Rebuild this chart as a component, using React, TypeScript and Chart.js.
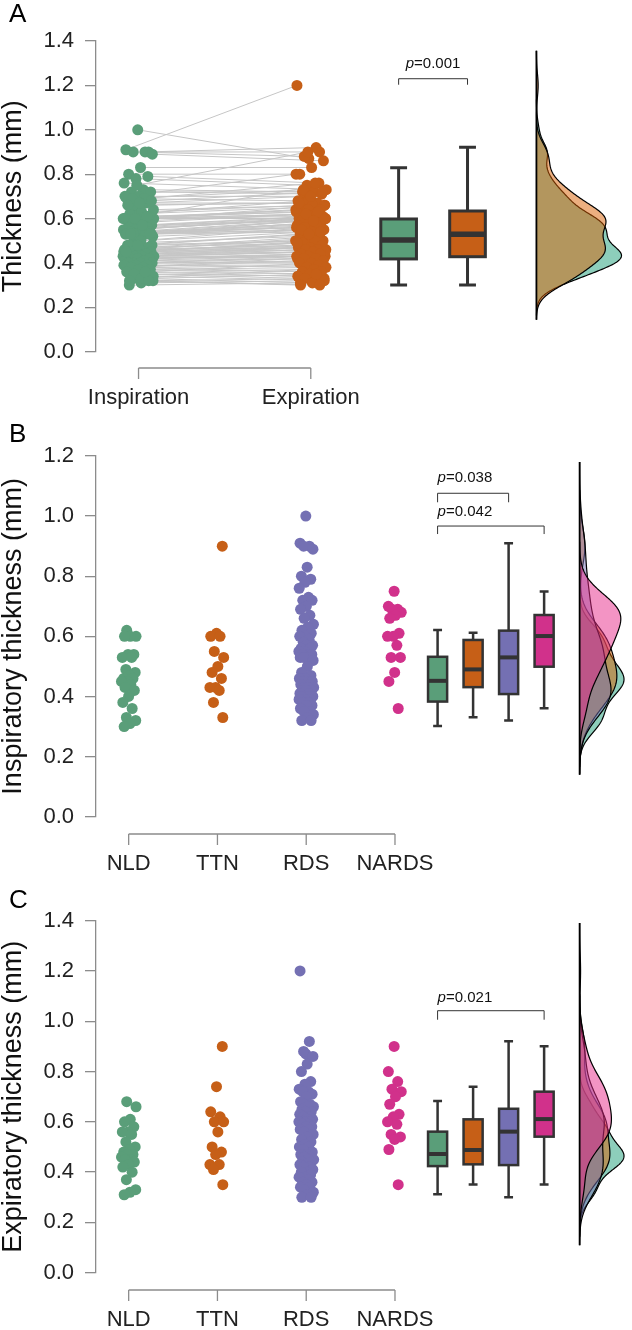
import React, { useEffect, useRef } from "react";
import { Chart, registerables } from "chart.js";
Chart.register(...registerables);

const FONT = '"Liberation Sans", Arial, Helvetica, sans-serif';

// ---------- categories ----------
const catsA = ["Inspiration", "Expiration"];
const catsBC = ["NLD", "TTN", "RDS", "NARDS"];

// ---------- inspiratory thickness (mm) per group ----------
const nldInsp = [0.62, 0.6, 0.6, 0.6, 0.54, 0.54, 0.53, 0.53, 0.49, 0.48, 0.47, 0.46, 0.46, 0.45, 0.45, 0.44, 0.43, 0.42, 0.4, 0.38, 0.36, 0.33, 0.32, 0.31, 0.3];
const ttnInsp = [0.9, 0.61, 0.6, 0.6, 0.55, 0.53, 0.5, 0.48, 0.46, 0.43, 0.43, 0.42, 0.38, 0.33];
const rdsInsp = [
  1.0, 0.91, 0.9, 0.9, 0.89, 0.83, 0.8, 0.79, 0.78, 0.76, 0.73, 0.72, 0.72, 0.7, 0.69, 0.67, 0.66, 0.64, 0.63,
  0.62, 0.61, 0.6, 0.6, 0.59, 0.58, 0.57, 0.57, 0.56, 0.56, 0.55, 0.55, 0.54, 0.54, 0.54, 0.53, 0.53, 0.53, 0.53,
  0.52, 0.5, 0.48, 0.47, 0.46, 0.46, 0.45, 0.45, 0.45, 0.44, 0.44, 0.44, 0.43, 0.43, 0.43, 0.42, 0.42, 0.42, 0.41,
  0.41, 0.4, 0.4, 0.4, 0.4, 0.39, 0.39, 0.39, 0.38, 0.38, 0.37, 0.37, 0.36, 0.35, 0.35, 0.34, 0.33, 0.32, 0.32,
];
const nardsInsp = [0.75, 0.7, 0.69, 0.69, 0.68, 0.67, 0.66, 0.61, 0.6, 0.6, 0.57, 0.53, 0.53, 0.48, 0.45, 0.36];

// ---------- expiratory thickness (mm) per group (same subjects, same order) ----------
const nldExp = [0.68, 0.66, 0.61, 0.6, 0.58, 0.56, 0.56, 0.55, 0.52, 0.5, 0.49, 0.48, 0.47, 0.47, 0.46, 0.45, 0.45, 0.44, 0.43, 0.42, 0.4, 0.37, 0.33, 0.32, 0.31];
const ttnExp = [0.9, 0.74, 0.64, 0.62, 0.6, 0.6, 0.56, 0.5, 0.48, 0.47, 0.43, 0.43, 0.41, 0.35];
const rdsExp = [
  0.87, 1.2, 0.92, 0.88, 0.86, 0.83, 0.8, 0.76, 0.75, 0.73, 0.72, 0.72, 0.71, 0.7, 0.68, 0.67, 0.67, 0.66, 0.66,
  0.65, 0.64, 0.64, 0.63, 0.62, 0.62, 0.61, 0.61, 0.6, 0.6, 0.6, 0.6, 0.59, 0.59, 0.58, 0.58, 0.57, 0.57, 0.56,
  0.55, 0.54, 0.53, 0.52, 0.51, 0.5, 0.5, 0.49, 0.48, 0.47, 0.47, 0.46, 0.46, 0.45, 0.45, 0.44, 0.44, 0.43, 0.43,
  0.42, 0.42, 0.41, 0.4, 0.4, 0.39, 0.38, 0.38, 0.37, 0.36, 0.36, 0.35, 0.34, 0.34, 0.33, 0.32, 0.31, 0.3, 0.3,
];
const nardsExp = [0.9, 0.8, 0.76, 0.73, 0.72, 0.7, 0.67, 0.63, 0.62, 0.6, 0.59, 0.55, 0.54, 0.53, 0.49, 0.35];

const inspAll = [...nldInsp, ...ttnInsp, ...rdsInsp, ...nardsInsp];
const expAll = [...nldExp, ...ttnExp, ...rdsExp, ...nardsExp];

// ---------- box plot statistics [lower whisker, Q1, median, Q3, upper whisker] ----------
const boxInspA = [0.3, 0.418, 0.503, 0.598, 0.829];
const boxExpA = [0.3, 0.428, 0.529, 0.634, 0.921];
const boxNldInsp = [0.302, 0.383, 0.452, 0.532, 0.621];
const boxTtnInsp = [0.331, 0.431, 0.49, 0.588, 0.612];
const boxRdsInsp = [0.32, 0.408, 0.53, 0.619, 0.91];
const boxNardsInsp = [0.361, 0.499, 0.601, 0.671, 0.749];
const boxNldExp = [0.312, 0.424, 0.472, 0.561, 0.683];
const boxTtnExp = [0.351, 0.431, 0.488, 0.61, 0.74];
const boxRdsExp = [0.3, 0.428, 0.561, 0.652, 0.921];
const boxNardsExp = [0.351, 0.541, 0.611, 0.72, 0.901];

// ---------- p values ----------
const pLabelsA = ["0.001"];
const pLabelsB = ["0.038", "0.042"];
const pLabelsC = ["0.021"];

// ---------- y axis ticks ----------
const yMaxA = 1.4;
const yMaxB = 1.2;
const yMaxC = 1.4;
const yStep = 0.2;

// ---------- styles ----------
const POINT_COLORS = ["#5a9e79", "#c65f17", "#7470b3", "#d1318b"];
const DENS_COLORS = ["rgba(27,158,119,0.5)", "rgba(217,95,2,0.5)", "rgba(117,112,179,0.5)", "rgba(231,41,138,0.5)"];
const AXIS_COLOR = "#8c8c8c";
const TEXT_COLOR = "#222";

function jitter(i: number, amp: number) {
  const f = (i * 0.6180339887 + 0.37) % 1;
  return (f - 0.5) * 2 * amp;
}

function kde(values: number[]) {
  const n = values.length;
  const s = [...values].sort((a, b) => a - b);
  const mean = s.reduce((a, b) => a + b, 0) / n;
  const sd = Math.sqrt(s.reduce((a, b) => a + (b - mean) * (b - mean), 0) / (n - 1));
  const q = (p: number) => {
    const h = (n - 1) * p;
    const lo = Math.floor(h);
    const hi = Math.min(n - 1, lo + 1);
    return s[lo] + (h - lo) * (s[hi] - s[lo]);
  };
  const iqr = q(0.75) - q(0.25);
  const bw = 0.9 * Math.min(sd, iqr / 1.34) * Math.pow(n, -0.2);
  const lo = s[0] - 3 * bw;
  const hi = s[n - 1] + 3 * bw;
  const out: { y: number; d: number }[] = [];
  const M = 240;
  for (let k = 0; k < M; k++) {
    const y = lo + ((hi - lo) * k) / (M - 1);
    let d = 0;
    for (const v of s) {
      const z = (y - v) / bw;
      d += Math.exp(-0.5 * z * z);
    }
    d /= n * bw * Math.sqrt(2 * Math.PI);
    out.push({ y, d });
  }
  return out;
}

type Bracket = { from: number; to: number; y: number; tick: number; textY: number; label: string; align: "left" | "center" };

type Panel = {
  letter: string;
  letterY: number;
  top: number;
  h: number;
  padTop: number;
  padBottom: number;
  xMin: number;
  xMax: number;
  yMax: number;
  title: string;
  cats: string[];
  groups: number[][];
  paired: boolean;
  jitterAmp: number;
  boxes: number[][];
  boxX: number[];
  boxW: number;
  capW: number;
  boxLW: number;
  medLW: number;
  densBase: number;
  densWidth: number;
  brackets: Bracket[];
  xAxisOff: number;
};

const panels: Panel[] = [
  {
    letter: "A", letterY: 15, top: 0, h: 420, padTop: 41, padBottom: 68.3,
    xMin: 0.753, xMax: 3.833, yMax: yMaxA, title: "Thickness (mm)",
    cats: catsA, groups: [inspAll, expAll], paired: true, jitterAmp: 0.09,
    boxes: [boxInspA, boxExpA], boxX: [2.51, 2.91], boxW: 0.207, capW: 0.098, boxLW: 3, medLW: 5.5,
    densBase: 3.31, densWidth: 0.494,
    brackets: [{ from: 0, to: 1, y: 1.23, tick: 6, textY: 1.296, label: pLabelsA[0], align: "center" }],
    xAxisOff: 16.3,
  },
  {
    letter: "B", letterY: 15, top: 420, h: 455, padTop: 36, padBottom: 58.3,
    xMin: 0.632, xMax: 6.608, yMax: yMaxB, title: "Inspiratory thickness (mm)",
    cats: catsBC, groups: [nldInsp, ttnInsp, rdsInsp, nardsInsp], paired: false, jitterAmp: 0.085,
    boxes: [boxNldInsp, boxTtnInsp, boxRdsInsp, boxNardsInsp], boxX: [4.48, 4.88, 5.28, 5.68], boxW: 0.215, capW: 0.1, boxLW: 2.5, medLW: 4,
    densBase: 6.08, densWidth: 0.5,
    brackets: [
      { from: 0, to: 2, y: 1.076, tick: 9, textY: 1.126, label: pLabelsB[0], align: "left" },
      { from: 0, to: 3, y: 0.967, tick: 8, textY: 1.015, label: pLabelsB[1], align: "left" },
    ],
    xAxisOff: 17.3,
  },
  {
    letter: "C", letterY: 26, top: 875, h: 455, padTop: 45.7, padBottom: 57.3,
    xMin: 0.632, xMax: 6.608, yMax: yMaxC, title: "Expiratory thickness (mm)",
    cats: catsBC, groups: [nldExp, ttnExp, rdsExp, nardsExp], paired: false, jitterAmp: 0.085,
    boxes: [boxNldExp, boxTtnExp, boxRdsExp, boxNardsExp], boxX: [4.48, 4.88, 5.28, 5.68], boxW: 0.215, capW: 0.1, boxLW: 2.5, medLW: 4,
    densBase: 6.08, densWidth: 0.5,
    brackets: [{ from: 0, to: 3, y: 1.042, tick: 9, textY: 1.093, label: pLabelsC[0], align: "left" }],
    xAxisOff: 17.3,
  },
];

function makePlugin(p: Panel) {
  return {
    id: "extras" + p.letter,
    afterDatasetsDraw(chart: any) {
      const ctx: CanvasRenderingContext2D = chart.ctx;
      const xs = chart.scales.x;
      const ys = chart.scales.y;
      const ca = chart.chartArea;
      ctx.save();

      // densities
      const dens = p.groups.map((g) => kde(g));
      let maxD = 0;
      dens.forEach((d) => d.forEach((pt) => (maxD = Math.max(maxD, pt.d))));
      const k = p.densWidth / maxD;
      const bx = xs.getPixelForValue(p.densBase);
      let lo = Infinity;
      let hi = -Infinity;
      dens.forEach((d, gi) => {
        lo = Math.min(lo, d[0].y);
        hi = Math.max(hi, d[d.length - 1].y);
        ctx.beginPath();
        ctx.moveTo(bx, ys.getPixelForValue(d[0].y));
        d.forEach((pt) => ctx.lineTo(xs.getPixelForValue(p.densBase + pt.d * k), ys.getPixelForValue(pt.y)));
        ctx.lineTo(bx, ys.getPixelForValue(d[d.length - 1].y));
        ctx.closePath();
        ctx.fillStyle = DENS_COLORS[gi];
        ctx.fill();
        ctx.beginPath();
        d.forEach((pt, i) => {
          const x = xs.getPixelForValue(p.densBase + pt.d * k);
          const y = ys.getPixelForValue(pt.y);
          if (i === 0) ctx.moveTo(x, y);
          else ctx.lineTo(x, y);
        });
        ctx.strokeStyle = "#000";
        ctx.lineWidth = 1.2;
        ctx.stroke();
      });
      ctx.beginPath();
      ctx.moveTo(bx, ys.getPixelForValue(lo));
      ctx.lineTo(bx, ys.getPixelForValue(hi));
      ctx.strokeStyle = "#000";
      ctx.lineWidth = 1.8;
      ctx.stroke();

      // boxes
      p.boxes.forEach((b, i) => {
        const cx = xs.getPixelForValue(p.boxX[i]);
        const hw = xs.getPixelForValue(p.boxX[i] + p.boxW / 2) - cx;
        const cw = xs.getPixelForValue(p.boxX[i] + p.capW / 2) - cx;
        const [mn, q1, md, q3, mx] = b.map((v) => ys.getPixelForValue(v));
        ctx.strokeStyle = "#333";
        ctx.lineWidth = p.boxLW;
        ctx.lineCap = "butt";
        ctx.beginPath();
        ctx.moveTo(cx, mx);
        ctx.lineTo(cx, q3);
        ctx.moveTo(cx, q1);
        ctx.lineTo(cx, mn);
        ctx.moveTo(cx - cw, mx);
        ctx.lineTo(cx + cw, mx);
        ctx.moveTo(cx - cw, mn);
        ctx.lineTo(cx + cw, mn);
        ctx.stroke();
        ctx.fillStyle = POINT_COLORS[i];
        ctx.fillRect(cx - hw, q3, 2 * hw, q1 - q3);
        ctx.strokeRect(cx - hw, q3, 2 * hw, q1 - q3);
        ctx.lineWidth = p.medLW;
        ctx.beginPath();
        ctx.moveTo(cx - hw, md);
        ctx.lineTo(cx + hw, md);
        ctx.stroke();
      });

      // brackets with p values
      p.brackets.forEach((br) => {
        const x1 = xs.getPixelForValue(p.boxX[br.from]);
        const x2 = xs.getPixelForValue(p.boxX[br.to]);
        const y = ys.getPixelForValue(br.y);
        ctx.strokeStyle = "#333";
        ctx.lineWidth = 1;
        ctx.beginPath();
        ctx.moveTo(x1, y + br.tick);
        ctx.lineTo(x1, y);
        ctx.lineTo(x2, y);
        ctx.lineTo(x2, y + br.tick);
        ctx.stroke();
        const ty = ys.getPixelForValue(br.textY);
        ctx.font = `italic 15px ${FONT}`;
        const wp = ctx.measureText("p").width;
        ctx.font = `15px ${FONT}`;
        const rest = "=" + br.label;
        const wr = ctx.measureText(rest).width;
        const tx = br.align === "center" ? (x1 + x2) / 2 - (wp + wr) / 2 : x1;
        ctx.fillStyle = "#111";
        ctx.textBaseline = "middle";
        ctx.textAlign = "left";
        ctx.font = `italic 15px ${FONT}`;
        ctx.fillText("p", tx, ty);
        ctx.font = `15px ${FONT}`;
        ctx.fillText(rest, tx + wp, ty);
      });

      // x axis (R style, detached)
      const y0 = ca.bottom + p.xAxisOff;
      const xa = xs.getPixelForValue(1);
      const xb = xs.getPixelForValue(p.cats.length);
      ctx.strokeStyle = AXIS_COLOR;
      ctx.lineWidth = 1.3;
      ctx.beginPath();
      ctx.moveTo(xa, y0);
      ctx.lineTo(xb, y0);
      p.cats.forEach((_, i) => {
        const x = xs.getPixelForValue(i + 1);
        ctx.moveTo(x, y0);
        ctx.lineTo(x, y0 + 11);
      });
      ctx.stroke();
      ctx.fillStyle = TEXT_COLOR;
      ctx.font = `22px ${FONT}`;
      ctx.textAlign = "center";
      ctx.textBaseline = "middle";
      p.cats.forEach((c, i) => {
        ctx.fillText(c, xs.getPixelForValue(i + 1), y0 + 30);
      });

      // panel letter
      ctx.fillStyle = "#000";
      ctx.font = `26px ${FONT}`;
      ctx.textAlign = "left";
      ctx.textBaseline = "middle";
      ctx.fillText(p.letter, 9, p.letterY);

      ctx.restore();
    },
  };
}

function makeChart(canvas: HTMLCanvasElement, p: Panel) {
  const datasets: any[] = [];
  let idx = 0;
  const positions: { x: number; y: number }[][] = [];
  p.groups.forEach((g, gi) => {
    const pts = g.map((v) => ({ x: gi + 1 + jitter(idx++, p.jitterAmp), y: v }));
    positions.push(pts);
    datasets.push({
      type: "scatter",
      data: pts,
      backgroundColor: POINT_COLORS[gi],
      borderWidth: 0,
      pointRadius: 5.5,
      pointHoverRadius: 5.5,
      order: 0,
    });
  });
  if (p.paired) {
    const lineData: any[] = [];
    positions[0].forEach((a, i) => {
      const b = positions[1][i];
      lineData.push({ x: a.x, y: a.y }, { x: b.x, y: b.y }, { x: b.x, y: null });
    });
    datasets.push({
      type: "line",
      data: lineData,
      borderColor: "#c6c6c6",
      borderWidth: 1,
      pointRadius: 0,
      spanGaps: false,
      fill: false,
      order: 5,
    });
  }
  return new Chart(canvas, {
    type: "scatter",
    data: { datasets },
    options: {
      animation: false,
      responsive: false,
      devicePixelRatio: 1,
      events: [],
      layout: { padding: { top: p.padTop, bottom: p.padBottom, left: 0, right: 0 } },
      plugins: { legend: { display: false }, tooltip: { enabled: false } },
      scales: {
        x: { type: "linear", display: false, min: p.xMin, max: p.xMax },
        y: {
          type: "linear",
          min: 0,
          max: p.yMax,
          afterFit: (s: any) => {
            s.width = 96;
          },
          ticks: {
            stepSize: yStep,
            padding: 11,
            color: TEXT_COLOR,
            font: { family: FONT, size: 22 },
            callback: (v: any) => Number(v).toFixed(1),
          },
          grid: { drawOnChartArea: false, drawTicks: true, tickLength: 11, color: AXIS_COLOR, lineWidth: 1.3 },
          border: { display: true, color: AXIS_COLOR, width: 1.3 },
          title: {
            display: true,
            text: p.title,
            color: "#111",
            font: { family: FONT, size: 27, lineHeight: 1 },
            padding: { top: 0, bottom: 0 },
          },
        },
      },
    } as any,
    plugins: [makePlugin(p)],
  });
}

export default function App() {
  const refs = useRef<(HTMLCanvasElement | null)[]>([]);
  useEffect(() => {
    const charts = panels.map((p, i) => makeChart(refs.current[i] as HTMLCanvasElement, p));
    return () => charts.forEach((c) => c.destroy());
  }, []);
  return (
    <div style={{ position: "absolute", left: 0, top: 0, width: 632, height: 1330, background: "#fff" }}>
      {panels.map((p, i) => (
        <canvas
          key={p.letter}
          ref={(el) => {
            refs.current[i] = el;
          }}
          width={632}
          height={p.h}
          style={{ position: "absolute", left: 0, top: p.top, width: 632, height: p.h }}
        />
      ))}
    </div>
  );
}
